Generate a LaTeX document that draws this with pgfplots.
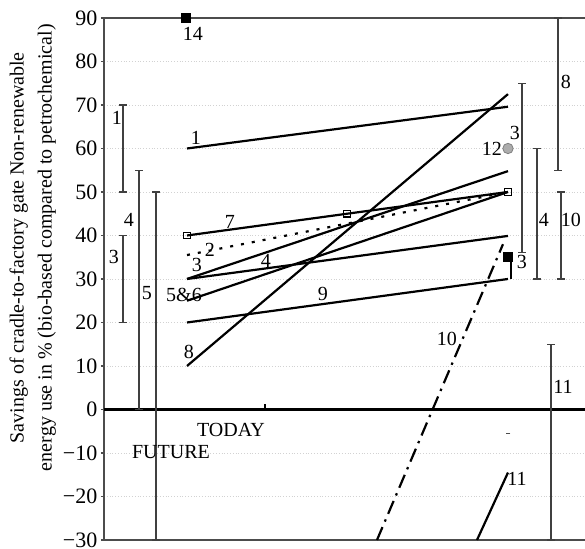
\documentclass[border=0pt]{standalone}
\usepackage{pgfplots}
\pgfplotsset{compat=1.18}
\usepackage{fontspec}
\setmainfont{Liberation Serif}
\usetikzlibrary{calc}

\begin{document}
\begin{tikzpicture}
\begin{axis}[
  scale only axis,
  width=240.5pt, height=261pt,
  xmin=104, xmax=585, ymin=-30, ymax=90,
  axis x line=box, axis y line=left,
  axis line style={-, line width=0.6pt, black!70},
  xtick=\empty,
  ytick={-30,-20,...,90},
  yticklabels={−30,−20,−10,0,10,20,30,40,50,60,70,80,90},
  yticklabel style={font=\fontsize{11}{11}\selectfont, xshift=1.7pt},
  tick align=outside, major tick length=1.5pt,
  tick style={black!70, line width=0.6pt},
  ymajorgrids, grid style={densely dotted, gray!35},
  ylabel={Savings of cradle-to-factory gate Non-renewable\\energy use in \% (bio-based compared to petrochemical)},
  ylabel style={font=\fontsize{10}{14}\selectfont, align=center,
    at={(axis description cs:0,0.56)}, anchor=south, yshift=20.5pt},
  clip=false,
  every node/.style={font=\fontsize{10.5}{12}\selectfont},
]
% zero line and TODAY tick
\addplot[line width=1.3pt] coordinates {(104,0) (585,0)};
\addplot[line width=0.8pt] coordinates {(265,0) (265,1.3)};

% range bars, left (future)
\addplot[black!75, line width=0.6pt, mark=-, mark size=2pt] coordinates {(123,70) (123,50)};
\addplot[black!75, line width=0.6pt, mark=-, mark size=2pt] coordinates {(123,40) (123,20)};
\addplot[black!75, line width=0.6pt, mark=-, mark size=2pt] coordinates {(139,55) (139,0)};
\addplot[black!75, line width=0.6pt, mark=-, mark size=2pt] coordinates {(156,50) (156,-30)};
% range bars, right
\addplot[black!75, line width=0.6pt, mark=-, mark size=2pt] coordinates {(522,75) (522,36)};
\addplot[black!75, line width=0.6pt, mark=-, mark size=2pt] coordinates {(537,60) (537,30)};
\addplot[black!75, line width=0.6pt, mark=-, mark size=2pt] coordinates {(551,15) (551,-30)};
\addplot[black!75, line width=0.6pt, mark=-, mark size=2pt] coordinates {(558,90) (558,55)};
\addplot[black!75, line width=0.6pt, mark=-, mark size=2pt] coordinates {(561,50) (561,30)};

% today -> future lines
\addplot[line width=1.1pt] coordinates {(187,60) (508,69.6)};   % 1
\addplot[line width=1.1pt, dash pattern=on 1.5pt off 4pt] coordinates {(187,35.5) (508,50)}; % 2
\addplot[line width=1.1pt] coordinates {(187,30) (508,54.8)};   % 3
\addplot[line width=1.1pt] coordinates {(187,30) (508,39.9)};   % 4
\addplot[line width=1.1pt] coordinates {(187,25) (508,50)};     % 5&6
\addplot[line width=1.1pt, mark=square, mark size=1.6pt, mark options={solid, line width=0.6pt, fill=white}]
  coordinates {(187,40) (347,45) (508,50)};                     % 7
\addplot[line width=1.1pt] coordinates {(187,10) (508,72.5)};   % 8
\addplot[line width=1.1pt] coordinates {(187,20) (508,30)};     % 9
\addplot[line width=1.1pt, dash pattern=on 7pt off 3pt on 1.2pt off 3pt] coordinates {(377,-30) (503,38)}; % 10
\addplot[line width=1.1pt] coordinates {(477,-30) (508,-14.5)}; % 11
\addplot[line width=1.1pt] coordinates {(511,35) (511,30)};     % 13

% single points
\addplot[only marks, mark=square*, mark size=2.3pt, black] coordinates {(186,90)};   % 14
\addplot[only marks, mark=square*, mark size=2.2pt, black] coordinates {(508,35)};   % 13
\addplot[only marks, mark=*, mark size=2.6pt, fill=gray!65, draw=gray] coordinates {(508,60)}; % 12
\addplot[only marks, mark=-, mark size=1.2pt, black!70] coordinates {(508,-5.5)};

% labels, left bars
\node at (axis cs:117,67) {1};
\node at (axis cs:114,35) {3};
\node at (axis cs:129,43.6) {4};
\node at (axis cs:147,26.8) {5};
% labels, lines
\node at (axis cs:196,62.4) {1};
\node at (axis cs:230,43) {7};
\node at (axis cs:210,36.7) {2};
\node at (axis cs:197,33.2) {3};
\node at (axis cs:266,34.2) {4};
\node at (axis cs:184,26.3) {5\&6};
\node at (axis cs:189,13.2) {8};
\node at (axis cs:323,26.5) {9};
\node at (axis cs:447,16.2) {10};
\node at (axis cs:517,-16) {11};
\node at (axis cs:492,59.8) {12};
\node at (axis cs:515,63.5) {3};
\node at (axis cs:193,86.3) {14};
\node at (axis cs:522,34) {3};
% labels, right bars
\node at (axis cs:544,43.6) {4};
\node at (axis cs:571,43.6) {10};
\node at (axis cs:566,75.3) {8};
\node at (axis cs:563,5.2) {11};
% period labels
\node at (axis cs:231,-4.7) {TODAY};
\node at (axis cs:171,-9.8) {FUTURE};
\end{axis}
\pgfresetboundingbox
\path[use as bounding box] ($(current axis.south west)+(-52pt,-4.5pt)$) rectangle ($(current axis.north east)+(0pt,9pt)$);
\end{tikzpicture}
\end{document}
